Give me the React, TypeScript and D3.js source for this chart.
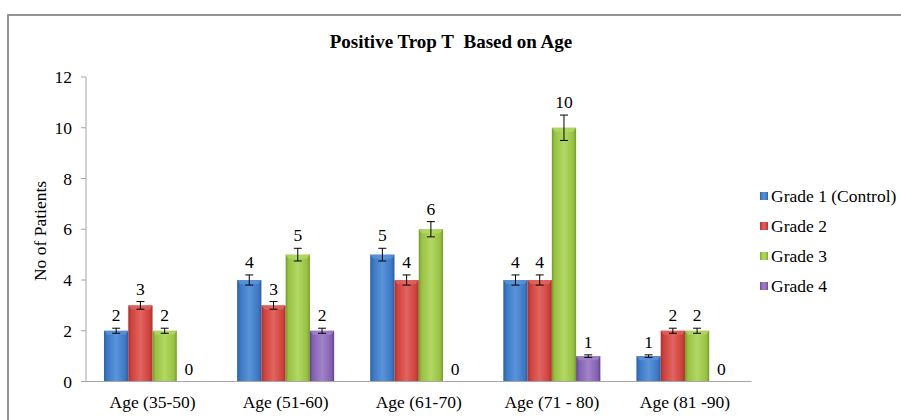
import React from "react";
import * as d3 from "d3";

const categories = ["Age (35-50)", "Age (51-60)", "Age (61-70)", "Age (71 - 80)", "Age (81 -90)"];
const seriesNames = ["Grade 1 (Control)", "Grade 2", "Grade 3", "Grade 4"];
const grade1 = [2, 4, 5, 4, 1];
const grade2 = [3, 3, 4, 4, 2];
const grade3 = [2, 5, 6, 10, 2];
const grade4 = [0, 2, 0, 1, 0];
const err1 = [0.1, 0.2, 0.25, 0.2, 0.05];
const err2 = [0.15, 0.15, 0.2, 0.2, 0.1];
const err3 = [0.1, 0.25, 0.3, 0.5, 0.1];
const err4 = [0, 0.1, 0, 0.05, 0];
const yTicks = [0, 2, 4, 6, 8, 10, 12];

const seriesValues = [grade1, grade2, grade3, grade4];
const seriesErrors = [err1, err2, err3, err4];
const colors = [
  { dark: "#2a5d9f", base: "#3a78c6", light: "#5a93d8" },
  { dark: "#a8302c", base: "#d0403b", light: "#e06560" },
  { dark: "#759a2c", base: "#98c23f", light: "#b2d866" },
  { dark: "#5f4488", base: "#8560b3", light: "#a083c8" },
];

const W = 901;
const H = 420;
const FONT = "Liberation Serif";

export default function App() {
  const x0 = d3.scaleBand<string>().domain(categories).range([86, 751.5]).paddingInner(0.271).paddingOuter(0.1355);
  const x1 = d3.scaleBand<number>().domain([0, 1, 2, 3]).range([0, x0.bandwidth()]);
  const y = d3.scaleLinear().domain([0, 12]).range([381.5, 77]);
  const ts = { fontFamily: FONT };

  return (
    <svg width={W} height={H} style={{ position: "absolute", left: 0, top: 0, background: "#fff", fontFamily: FONT }}>
      <defs>
        {colors.map((c, i) => (
          <linearGradient key={i} id={`g${i}`} x1="0" x2="1" y1="0" y2="0">
            <stop offset="0" stopColor={c.dark} />
            <stop offset="0.12" stopColor={c.base} />
            <stop offset="0.5" stopColor={c.light} />
            <stop offset="0.88" stopColor={c.base} />
            <stop offset="1" stopColor={c.dark} />
          </linearGradient>
        ))}
      </defs>
      <rect x={0} y={0} width={W} height={H} fill="#fff" />
      <rect x={8} y={15} width={1200} height={1200} fill="none" stroke="#8a8a8a" strokeWidth={1.8} />

      <text x={451} y={48} textAnchor="middle" fontWeight="bold" fontSize={19} style={ts}>
        Positive Trop T{"\u00a0\u00a0"}Based on Age
      </text>

      {/* y axis */}
      <line x1={86} x2={86} y1={y(12)} y2={y(0)} stroke="#a6a6a6" strokeWidth={1} />
      {yTicks.map((t) => (
        <g key={t}>
          <line x1={81} x2={86} y1={y(t)} y2={y(t)} stroke="#a6a6a6" strokeWidth={1} />
          <text x={72} y={y(t)} dy="0.35em" textAnchor="end" fontSize={17.5} style={ts}>
            {t}
          </text>
        </g>
      ))}
      <text transform={`translate(46, 231) rotate(-90)`} textAnchor="middle" fontSize={17.5} style={ts}>
        No of Patients
      </text>

      {/* bars */}
      {categories.map((cat, ci) => (
        <g key={cat}>
          {seriesValues.map((vals, si) => {
            const v = vals[ci];
            const e = seriesErrors[si][ci];
            const bx = (x0(cat) as number) + (x1(si) as number);
            const bw = x1.bandwidth();
            const cx = bx + bw / 2;
            const top = y(v);
            const h = y(0) - top;
            const errTop = y(v + e);
            const errBot = y(v - e);
            const bev = Math.min(4, h / 2);
            return (
              <g key={si}>
                {v > 0 && (
                  <>
                    <rect x={bx} y={top} width={bw} height={h} fill={`url(#g${si})`} />
                    <polygon
                      points={`${bx},${top} ${bx + bw},${top} ${bx + bw - 3},${top + bev} ${bx + 3},${top + bev}`}
                      fill={colors[si].light}
                      opacity={0.8}
                    />
                  </>
                )}
                {e > 0 && (
                  <g stroke="#000" strokeWidth={1}>
                    <line x1={cx} x2={cx} y1={errTop} y2={errBot} />
                    <line x1={cx - 4} x2={cx + 4} y1={errTop} y2={errTop} />
                    <line x1={cx - 4} x2={cx + 4} y1={errBot} y2={errBot} />
                  </g>
                )}
                <text x={cx} y={errTop - 7} textAnchor="middle" fontSize={17.5} style={ts}>
                  {v}
                </text>
              </g>
            );
          })}
          <text x={(x0(cat) as number) + x0.bandwidth() / 2} y={408} textAnchor="middle" fontSize={17.5} style={ts}>
            {cat}
          </text>
        </g>
      ))}
      <line x1={86} x2={751.5} y1={y(0)} y2={y(0)} stroke="#a6a6a6" strokeWidth={1} />

      {/* legend */}
      {seriesNames.map((name, i) => {
        const ly = 196 + i * 30;
        return (
          <g key={name}>
            <rect x={760} y={ly - 4} width={8} height={8} fill={`url(#g${i})`} />
            <text x={771} y={ly} dy="0.35em" fontSize={17.5} style={ts}>
              {name}
            </text>
          </g>
        );
      })}
    </svg>
  );
}
